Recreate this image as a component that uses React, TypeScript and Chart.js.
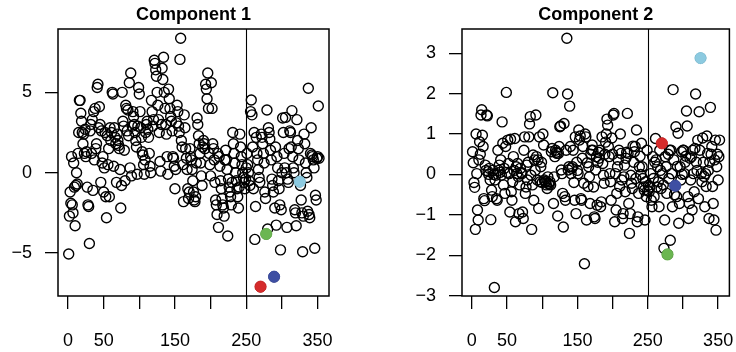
import React, { useEffect, useRef } from "react";
import { Chart, registerables } from "chart.js";

Chart.register(...registerables);

const FONT = "'Liberation Sans', Arial, Helvetica, sans-serif";

// Component 1 values, observation 1..352
const comp1Values: number[] = [
  -5.06, -2.7, -1.2, -1.9, 1.0, -2.0, -2.5, 0.6, -0.9, -3.3,
  -0.8, 0.0, -0.7, 1.2, 2.5, 4.5, 4.5, 3.7, 3.2, 2.5,
  1.8, 2.4, 1.2, 2.7, 1.0, 1.3, -0.9, -2.0, -2.1, -4.4,
  2.6, 3.0, 1.2, 3.3, -1.1, 3.8, 0.8, 4.0, 1.5, 1.8,
  5.3, 5.5, 2.8, 4.1, 3.0, -0.6, 2.6, 0.6, 1.0, -1.2,
  0.3, 2.5, -1.5, -2.8, 2.3, 0.5, 1.5, -1.5, 2.8, 2.0,
  2.5, 5.0, 4.9, 0.4, 2.8, 2.2, 1.8, -0.6, 2.4, 2.0,
  1.7, 1.5, 0.2, -2.2, -0.8, 5.0, 3.2, 2.9, 1.4, -0.5,
  4.2, 4.0, 2.6, 3.9, 2.3, 5.6, 0.3, 6.2, -0.2, 2.9,
  3.8, 3.5, 3.0, 2.5, 2.0, 1.6, -0.1, 2.9, 5.3, 4.9,
  3.8, 2.8, 2.2, 1.3, 1.1, 0.5, -0.1, 0.8, 2.5, 3.0,
  3.2, 2.7, 2.2, 1.2, 0.4, 0.0, 4.5, 3.8, 2.9, 3.3,
  7.0, 6.8, 6.4, 6.0, 5.0, 4.2, 3.3, 2.5, 0.7, 0.1,
  3.0, 6.5, 5.8, 7.18, 5.0, 4.0, 3.0, 2.4, 1.0, -0.1,
  5.2, 4.6, 4.0, 3.5, 3.2, 2.6, 1.0, 0.9, 0.4, -1.0,
  0.2, 3.1, 4.2, 3.8, 2.9, 2.5, 7.05, 8.36, 2.0, 1.6,
  0.5, -1.8, 3.6, 2.8, 1.5, 0.9, 0.2, -1.0, -1.6, -1.2,
  1.5, 1.0, 0.8, 0.2, -0.5, -1.2, -1.7, -1.8, -1.5, 0.6,
  3.4, 3.0, 2.3, 1.8, 1.2, 0.6, -0.2, -0.8, 1.6, 2.0,
  1.8, 1.5, 5.5, 5.2, 4.6, 6.2, 4.0, 1.2, 0.5, -0.2,
  5.6, 4.0, 1.8, 1.5, 0.8, -0.6, -1.7, -2.0, -2.6, 1.2,
  -3.4, 1.0, 0.4, -0.5, -1.0, -1.6, -2.0, -2.2, -2.7, 0.8,
  1.4, 0.8, 0.2, -3.94, -0.4, -0.9, -1.2, -1.5, -2.0, -0.6,
  2.5, 1.8, 1.2, 0.6, 0.0, -0.5, -1.0, -1.5, -2.2, -0.9,
  2.4, 1.6, 1.0, 0.5, 0.0, -0.3, -0.6, -1.0, -0.4, 0.3,
  1.2, 0.5, 0.0, -0.5, -0.8, 3.8, 4.52, 3.6, 1.6, -1.0,
  2.5, -4.15, -2.1, 2.2, 1.2, 0.8, 0.2, -0.3, -0.6, -7.09,
  2.4, 2.2, 1.8, 1.2, 0.6, -1.2, -1.6, -3.81, 3.9, -3.5,
  2.8, 2.5, 2.1, 1.4, 0.8, -0.4, -0.8, -1.2, -6.47, -2.2,
  1.6, -3.26, 1.0, 0.3, -0.5, -1.0, -2.0, -4.8, -2.3, 0.0,
  3.4, 2.5, 1.2, 0.3, 3.44, 0.0, -3.4, -0.4, -0.6, 1.5,
  2.6, 2.5, 1.6, 3.86, 1.0, 0.3, 0.0, -2.3, -2.5, -3.3,
  3.3, 2.0, 1.5, 0.8, -0.56, -0.8, -1.7, -2.5, -4.92, -2.7,
  2.4, 1.8, 0.6, 0.0, -0.3, -2.4, 5.25, -2.6, -2.8, 1.2,
  2.8, 1.1, 1.0, 0.8, 0.3, -4.7, -1.4, -1.7, 0.9, 1.0,
  4.15, 0.9,
];

// Component 2 values, observation 1..352
const comp2Values: number[] = [
  0.56, 0.29, -0.2, -0.32, -1.36, 1.0, 0.02, -0.88, -1.13, 0.36,
  0.81, 0.5, 1.47, 1.6, 0.97, 0.69, -0.6, -0.65, 0.23, 0.1,
  1.47, 1.45, 0.07, 0.0, 0.15, -0.14, -1.12, -0.39, -0.55, 0.1,
  0.0, -2.8, -0.14, -0.02, -0.6, -0.64, 0.6, 0.1, 0.23, 0.05,
  0.36, -0.02, 1.3, 0.77, -0.26, 0.15, -0.47, 0.69, 2.03, 0.05,
  0.85, 0.27, 0.02, -0.93, 0.87, -0.43, -0.64, -0.18, 0.44, 0.1,
  0.89, -1.17, 0.19, 0.02, 0.27, -0.06, -0.97, -0.26, 0.15, 0.05,
  0.02, -0.93, -1.09, 0.6, 0.93, -0.47, -0.31, 0.23, -0.14, 0.3,
  0.93, 1.25, 1.43, -0.02, -1.36, -0.26, 0.48, -0.64, 0.36, 0.1,
  1.47, 0.44, -0.14, 0.36, -0.84, 0.93, -0.18, 0.19, 0.3, -0.2,
  1.0, 0.73, -0.14, -0.18, -0.18, -0.26, -0.35, -0.06, -0.22, -0.25,
  -0.18, -0.26, 0.56, 0.64, 2.02, -0.72, -0.06, 0.44, 0.6, 0.55,
  0.52, -1.03, 0.52, 0.69, 1.18, 1.2, 0.11, 0.02, -0.47, -1.3,
  1.26, -0.55, -0.64, 0.6, 3.37, 1.99, 0.11, 0.19, 1.69, 0.69,
  0.02, 0.15, 0.19, 0.6, -0.2, -0.64, 0.93, -0.97, 0.3, 0.1,
  0.02, 1.1, 0.85, 0.95, -0.6, -0.64, 0.4, 0.69, -0.22, -2.21,
  1.0, 0.93, -1.13, 0.29, -0.3, 0.19, -0.06, -0.72, 0.5, 0.6,
  0.73, 0.6, -0.31, -1.05, -1.09, 0.11, 0.44, -0.76, 0.3, 0.55,
  0.4, 0.6, -0.8, -0.68, 0.93, 0.27, -0.02, -0.22, 0.5, 0.8,
  1.0, 1.37, 1.22, 0.69, 0.44, 0.02, -0.18, -0.64, 0.9, 0.5,
  1.47, 1.51, -1.17, 0.02, -0.88, -0.47, 0.19, 0.36, 0.6, -0.3,
  1.0, 0.52, -0.14, -1.09, -0.97, -0.06, 0.23, -0.43, 0.4, 0.55,
  1.51, 0.52, -0.72, -1.46, -0.97, -0.02, -0.22, -0.35, 0.7, 0.3,
  0.56, 0.69, -0.1, 1.1, -1.17, -1.05, -0.47, 0.19, 0.45, 0.0,
  0.77, 0.19, -0.1, -0.31, -0.39, -1.13, -0.18, -0.55, 0.6, -0.4,
  -0.27, -0.43, -0.31, 0.02, -0.64, -0.8, 0.44, -0.1, -0.55, 0.3,
  0.89, 0.36, -0.31, 0.19, -0.18, -0.8, 0.6, 0.1, -0.35, 0.77,
  0.02, -0.26, -1.83, -1.13, 0.44, 0.19, -0.47, -1.98, 0.5, -0.1,
  0.6, -1.63, 0.6, 0.02, -0.8, 2.1, 0.36, -0.5, -0.28, 1.18,
  -0.55, 0.2, 1.02, -1.21, -0.72, 0.19, -0.14, 0.56, 0.0, 0.6,
  0.6, 0.02, 0.3, 0.45, 1.57, 1.2, -0.55, -1.09, -0.72, 0.4,
  -0.14, 0.44, -0.88, 0.6, 0.02, -0.43, 0.64, 1.99, 0.3, 0.1,
  0.85, -0.6, 1.55, 0.6, 2.88, 0.02, -0.18, 0.9, 0.3, -0.05,
  -0.8, 0.02, -0.3, 0.95, 0.52, 0.1, -1.09, 0.3, 1.66, 0.5,
  0.69, -0.3, -0.72, -1.13, 0.36, 0.85, -1.38, 0.19, 0.5, -0.14,
  0.44, 0.85,
];

const highlightIndex: number[] = [270, 278, 289, 325];
const highlightColors: string[] = ["#D52B2B", "#6BB651", "#3E4FA3", "#8CCAE0"];

const xTickValues: number[] = [0, 50, 100, 150, 200, 250, 300, 350];
const xTickLabelsShown: number[] = [0, 50, 150, 250, 350];
const yTicks1: number[] = [-5, 0, 5];
const yTicks2: number[] = [-3, -2, -1, 0, 1, 2, 3];
const splitAt = 250;

const fmt = (v: number) => (v < 0 ? "\u2212" + Math.abs(v) : String(v));

function makeChart(
  canvas: HTMLCanvasElement,
  values: number[],
  title: string,
  yMin: number,
  yMax: number,
  yTicks: number[],
  yAxisWidth: number,
  rightPad: number
) {
  const points = values.map((v, i) => ({ x: i + 1, y: v }));
  const highlights = highlightIndex.map((ix) => ({ x: ix, y: values[ix - 1] }));

  const frame = {
    id: "rframe",
    afterDatasetsDraw(chart: any) {
      const { ctx, chartArea: a, scales } = chart;
      ctx.save();
      ctx.strokeStyle = "#000";
      const vx = scales.x.getPixelForValue(splitAt);
      ctx.lineWidth = 1.1;
      ctx.beginPath();
      ctx.moveTo(Math.round(vx) + 0.5, a.top);
      ctx.lineTo(Math.round(vx) + 0.5, a.bottom);
      ctx.stroke();
      ctx.lineWidth = 1.5;
      ctx.strokeRect(a.left, a.top, a.right - a.left, a.bottom - a.top);
      ctx.fillStyle = "#000";
      ctx.font = `bold 18px ${FONT}`;
      ctx.textAlign = "center";
      ctx.textBaseline = "middle";
      ctx.fillText(title, (a.left + a.right) / 2, 15);
      ctx.restore();
    },
  };

  return new Chart(canvas, {
    type: "scatter",
    data: {
      datasets: [
        {
          data: highlights,
          order: 1,
          pointRadius: 5.6,
          pointBorderWidth: 1,
          pointBorderColor: highlightColors,
          pointBackgroundColor: highlightColors,
          pointHoverRadius: 5.6,
        } as any,
        {
          data: points,
          order: 2,
          pointRadius: 5,
          pointBorderWidth: 1.4,
          pointBorderColor: "#000",
          pointBackgroundColor: "rgba(0,0,0,0)",
          pointHoverRadius: 5,
        } as any,
      ],
    },
    options: {
      animation: false,
      responsive: false,
      devicePixelRatio: 1,
      events: [],
      layout: { padding: { left: 0, right: rightPad, top: 29, bottom: 0 } },
      plugins: { legend: { display: false }, tooltip: { enabled: false }, title: { display: false } },
      scales: {
        x: {
          type: "linear",
          min: -14,
          max: 366,
          afterBuildTicks: (s: any) => {
            s.ticks = xTickValues.map((v) => ({ value: v }));
          },
          afterFit: (s: any) => {
            s.height = 56;
            s.paddingLeft = 0;
            s.paddingRight = 0;
          },
          border: { display: false },
          grid: { drawOnChartArea: false, drawTicks: true, tickLength: 13, color: "#000", lineWidth: 1.3 },
          ticks: {
            autoSkip: false,
            maxRotation: 0,
            padding: 21,
            color: "#000",
            font: { family: FONT, size: 18 },
            callback: (v: any) => (xTickLabelsShown.includes(Number(v)) ? String(v) : ""),
          },
        },
        y: {
          type: "linear",
          min: yMin,
          max: yMax,
          afterBuildTicks: (s: any) => {
            s.ticks = yTicks.map((v) => ({ value: v }));
          },
          afterFit: (s: any) => {
            s.width = yAxisWidth;
            s.paddingTop = 0;
            s.paddingBottom = 0;
          },
          border: { display: false },
          grid: { drawOnChartArea: false, drawTicks: true, tickLength: 13, color: "#000", lineWidth: 1.3 },
          ticks: {
            autoSkip: false,
            padding: 13,
            color: "#000",
            font: { family: FONT, size: 18 },
            callback: (v: any) => fmt(Number(v)),
          },
        },
      },
    },
    plugins: [frame],
  } as any);
}

export default function App() {
  const ref1 = useRef<HTMLCanvasElement>(null);
  const ref2 = useRef<HTMLCanvasElement>(null);

  useEffect(() => {
    const c1 = makeChart(ref1.current!, comp1Values, "Component 1", -7.67, 8.94, yTicks1, 58, 39);
    const c2 = makeChart(ref2.current!, comp2Values, "Component 2", -3.01, 3.6, yTicks2, 94, 4);
    return () => {
      c1.destroy();
      c2.destroy();
    };
  }, []);

  return (
    <div style={{ position: "absolute", left: 0, top: 0, width: 736, height: 352, background: "#fff" }}>
      <canvas ref={ref1} width={368} height={352} style={{ position: "absolute", left: 0, top: 0, width: 368, height: 352 }} />
      <canvas ref={ref2} width={368} height={352} style={{ position: "absolute", left: 368, top: 0, width: 368, height: 352 }} />
    </div>
  );
}
